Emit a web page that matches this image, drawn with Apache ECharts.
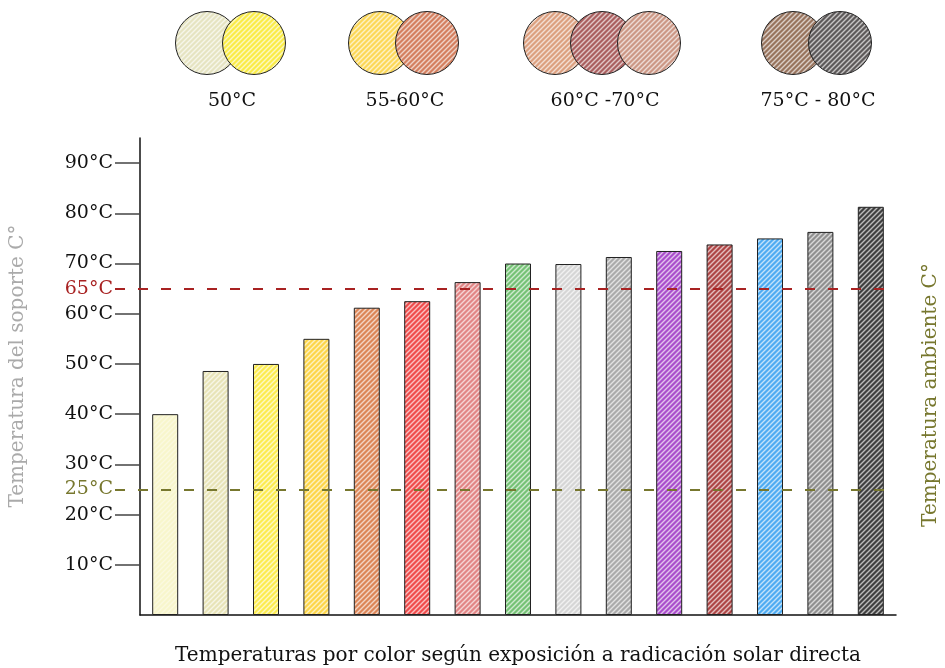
<!DOCTYPE html>
<html>
<head>
<meta charset="utf-8">
<script src="https://cdn.jsdelivr.net/npm/echarts@6/dist/echarts.min.js"></script>
<style>
  html, body { margin: 0; padding: 0; background: #fff; }
  #chart { width: 945px; height: 668px; }
</style>
</head>
<body>
<div id="chart"></div>
<script>
// datos
const categories = ['1', '2', '3', '4', '5', '6', '7', '8', '9', '10', '11', '12', '13', '14', '15']
const values = [40, 48.6, 50, 55, 61.2, 62.5, 66.3, 70, 69.9, 71.3, 72.5, 73.8, 75, 76.3, 81.3]
const barColors = ['#f8f6cc', '#e8e4b8', '#fcec50', '#fdd64a', '#dc8658', '#f04c4c', '#e28686',
  '#76c276', '#d6d6d6', '#ababab', '#aa4ecc', '#ae4646', '#4eacf2', '#909090', '#404040']
const yTicks = [10, 20, 30, 40, 50, 60, 70, 80, 90]
const limitSoporte = 65   // linea roja
const tempAmbiente = 25   // linea verde oliva
// leyenda superior: grupos de circulos
const legendLabels = ['50°C', '55-60°C', '60°C -70°C', '75°C - 80°C']
const legendColors = [
  ['#e6e4c2', '#faec48'],
  ['#fcd858', '#d48060'],
  ['#dca080', '#aa6060', '#cc9886'],
  ['#98745e', '#5e5a5a']
]

const FONT = 'DejaVu Serif'

// patron rayado (lineas blancas diagonales)
function hatch(color, alpha) {
    const n = 5
    const c = document.createElement('canvas')
    c.width = n
    c.height = n
    const ctx = c.getContext('2d')
    ctx.fillStyle = color
    ctx.fillRect(0, 0, n, n)
    ctx.strokeStyle = 'rgba(255,255,255,' + (alpha || 0.65) + ')'
    ctx.lineWidth = 1.4
    ctx.beginPath()
    ctx.moveTo(0, n); ctx.lineTo(n, 0)
    ctx.moveTo(-n, n); ctx.lineTo(n, -n)
    ctx.moveTo(0, 2 * n); ctx.lineTo(2 * n, 0)
    ctx.stroke()
    return {image: c, repeat: 'repeat'}
}

const chart = echarts.init(document.getElementById('chart'))

// circulos de la leyenda
const legendCenters = [[207, 254], [380, 427], [555, 602, 649], [793, 840]]
const legendTextX = [232, 405, 605, 818]
const graphics = []
legendColors.forEach((group, g) => {
    group.forEach((col, k) => {
        graphics.push({
            type: 'circle',
            shape: {cx: legendCenters[g][k], cy: 43, r: 31.5},
            style: {fill: hatch(col), stroke: '#222', lineWidth: 1}
        })
    })
    graphics.push({
        type: 'text',
        x: legendTextX[g], y: 101,
        style: {text: legendLabels[g], font: '19px "' + FONT + '"', fill: '#111', align: 'center', verticalAlign: 'middle'}
    })
})
// titulos de ejes
graphics.push({
    type: 'text', x: 18, y: 366, rotation: Math.PI / 2,
    style: {text: 'Temperatura del soporte C°', font: '20px "' + FONT + '"', fill: '#aaaaaa', align: 'center', verticalAlign: 'middle'}
})
graphics.push({
    type: 'text', x: 931, y: 395, rotation: Math.PI / 2,
    style: {text: 'Temperatura ambiente C°', font: '20px "' + FONT + '"', fill: '#77772e', align: 'center', verticalAlign: 'middle'}
})
graphics.push({
    type: 'text', x: 518, y: 656,
    style: {text: 'Temperaturas por color según exposición a radicación solar directa', font: '20px "' + FONT + '"', fill: '#111', align: 'center', verticalAlign: 'middle'}
})

const option = {
    animation: false,
    grid: {left: 140, right: 49, top: 138, bottom: 53},
    xAxis: {
        type: 'category',
        data: categories,
        axisLine: {lineStyle: {color: '#111', width: 1.5}},
        axisTick: {show: false},
        axisLabel: {show: false}
    },
    yAxis: {
        type: 'value',
        min: 0,
        max: 95,
        interval: 10,
        splitLine: {show: false},
        axisLine: {show: true, lineStyle: {color: '#111', width: 1.5}},
        axisTick: {show: true, length: 25, customValues: yTicks, lineStyle: {color: '#444', width: 1.5}},
        axisLabel: {
            customValues: yTicks,
            margin: 27,
            fontFamily: FONT,
            fontSize: 19,
            color: '#111',
            formatter: v => v + '°C'
        }
    },
    graphic: graphics,
    series: [{
        type: 'bar',
        barWidth: 26,
        data: values.map((v, i) => ({value: v, itemStyle: {color: hatch(barColors[i], i === 0 ? 0.4 : 0.65)}})),
        itemStyle: {borderColor: '#222', borderWidth: 1}
    }]
}
chart.setOption(option)

// lineas de referencia: desde la zona de ticks hasta el final del eje x
function refLine(val, color) {
    const y = chart.convertToPixel({yAxisIndex: 0}, val)
    return [
        {x: 115, y: y, lineStyle: {color: color}, label: {color: color, formatter: val + '°C'}},
        {x: 896, y: y}
    ]
}
chart.setOption({
    series: [{
        markLine: {
            silent: true,
            symbol: 'none',
            data: [refLine(limitSoporte, '#a82222'), refLine(tempAmbiente, '#77772e')],
            lineStyle: {type: [10, 13], width: 2.2},
            label: {
                position: 'start',
                distance: 2,
                fontFamily: FONT,
                fontSize: 19
            }
        }
    }]
})
</script>
</body>
</html>
